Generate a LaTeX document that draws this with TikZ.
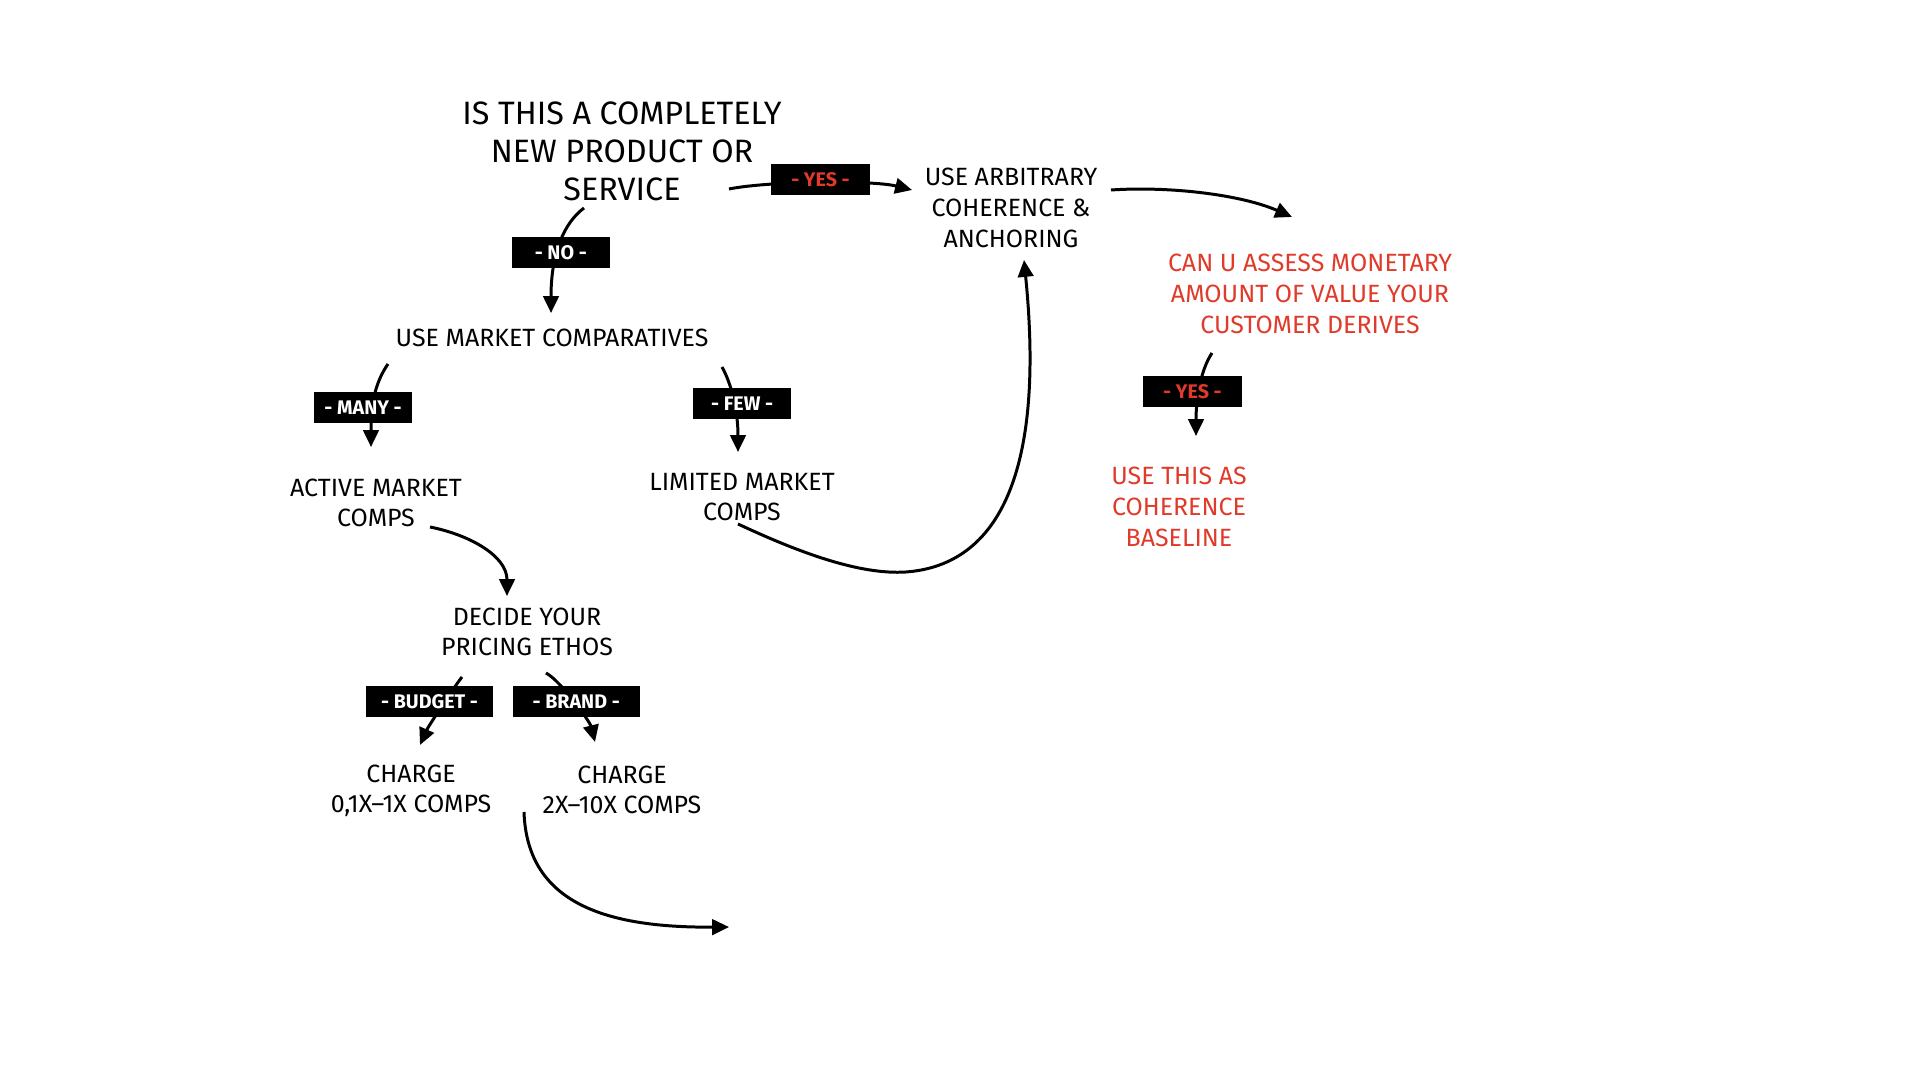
\documentclass[tikz,border=0pt]{standalone}
\usepackage{fontspec}
\setmainfont{Fira Sans}
\usetikzlibrary{arrows.meta,calc}
\definecolor{sketchred}{RGB}{224,58,42}

\begin{document}
\begin{tikzpicture}[
    x=0.01cm, y=-0.01cm,
    txt/.style={align=center, inner sep=0pt, font=\fontsize{7.1}{8.7}\selectfont},
    bigtxt/.style={align=center, inner sep=0pt, font=\fontsize{9.2}{10.8}\selectfont},
    tag/.style={fill=black, text=white, inner sep=0pt, minimum width=0.98cm, minimum height=0.31cm, font=\fontsize{5.6}{6}\selectfont\bfseries},
    widetag/.style={tag, minimum width=1.27cm},
    arrow/.style={line width=0.85pt, -{Triangle[length=4.8pt,width=4.4pt]}}
]
\useasboundingbox (0,0) rectangle (1920,1080);

% Preguntas y pasos
\node[bigtxt] (newprod) at (622,151) {IS THIS A COMPLETELY\\NEW PRODUCT OR\\SERVICE};
\node[txt] (arbitrary) at (1011,208) {USE ARBITRARY\\COHERENCE \&\\ANCHORING};
\node[txt, text=sketchred] (assess) at (1310,294) {CAN U ASSESS MONETARY\\AMOUNT OF VALUE YOUR\\CUSTOMER DERIVES};
\node[txt, text=sketchred] (baseline) at (1179,507) {USE THIS AS\\COHERENCE\\BASELINE};
\node[txt] (comparatives) at (552,338) {USE MARKET COMPARATIVES};
\node[txt] (active) at (376,503) {ACTIVE MARKET\\COMPS};
\node[txt] (limited) at (742,497) {LIMITED MARKET\\COMPS};
\node[txt] (ethos) at (527,632) {DECIDE YOUR\\PRICING ETHOS};
\node[txt] (budget) at (411,791) {CHARGE\\0,1X–1X COMPS};
\node[txt] (brand) at (622,790) {CHARGE\\2X–10X COMPS};
\coordinate (onward) at (729,927);

% Flechas con etiquetas
\draw[arrow] ($(newprod)+(107,38)$) .. controls +(40,-8) and +(-40,-10) .. node[tag, text=sketchred, pos=0.5, yshift=1pt] {- YES -} ($(arbitrary)+(-99,-18)$);
\draw[arrow] ($(arbitrary)+(100,-18)$) .. controls +(60,-4) and +(-50,-22) .. ($(assess)+(-18,-77)$);
\draw[arrow] ($(newprod)+(-38,57)$) .. controls +(-20,15) and +(0,-60) .. node[tag, pos=0.55, xshift=0.7pt, yshift=-1pt] {- NO -} ($(comparatives)+(-1,-25)$);
\draw[arrow] ($(comparatives)+(-164,26)$) .. controls +(-14,20) and +(0,-40) .. node[tag, pos=0.6, xshift=-2.8pt, yshift=-0.35pt] {- MANY -} ($(active)+(-5,-56)$);
\draw[arrow] ($(comparatives)+(170,29)$) .. controls +(10,18) and +(0,-40) .. node[tag, pos=0.5, xshift=2.4pt, yshift=-0.7pt] {- FEW -} ($(limited)+(-4,-45)$);
\draw[arrow] ($(active)+(54,24)$) .. controls +(40,8) and +(0,-40) .. ($(ethos)+(-20,-36)$);
\draw[arrow] ($(limited)+(-4,27)$) .. controls +(62,29) and +(-46,3) .. (906,572)
    .. controls +(94,-7) and +(21,210) .. ($(arbitrary)+(13,52)$);
\draw[arrow] ($(budget)+(113,21)$) .. controls +(3,88) and +(-129,1) .. (onward);
\draw[arrow] ($(assess)+(-98,59)$) .. controls +(-12,18) and +(0,-35) .. node[tag, text=sketchred, pos=0.5, xshift=-2pt, yshift=-1pt] {- YES -} ($(baseline)+(17,-71)$);
\draw[arrow] ($(ethos)+(-65,45)$) .. controls +(-8,10) and +(8,-18) .. node[widetag, pos=0.4, xshift=-4.7pt, yshift=-0.35pt] {- BUDGET -} ($(budget)+(9,-46)$);
\draw[arrow] ($(ethos)+(19,41)$) .. controls +(15,8) and +(-5,-20) .. node[widetag, pos=0.45, xshift=1.4pt, yshift=-0.7pt] {- BRAND -} ($(brand)+(-27,-48)$);

\end{tikzpicture}
\end{document}
